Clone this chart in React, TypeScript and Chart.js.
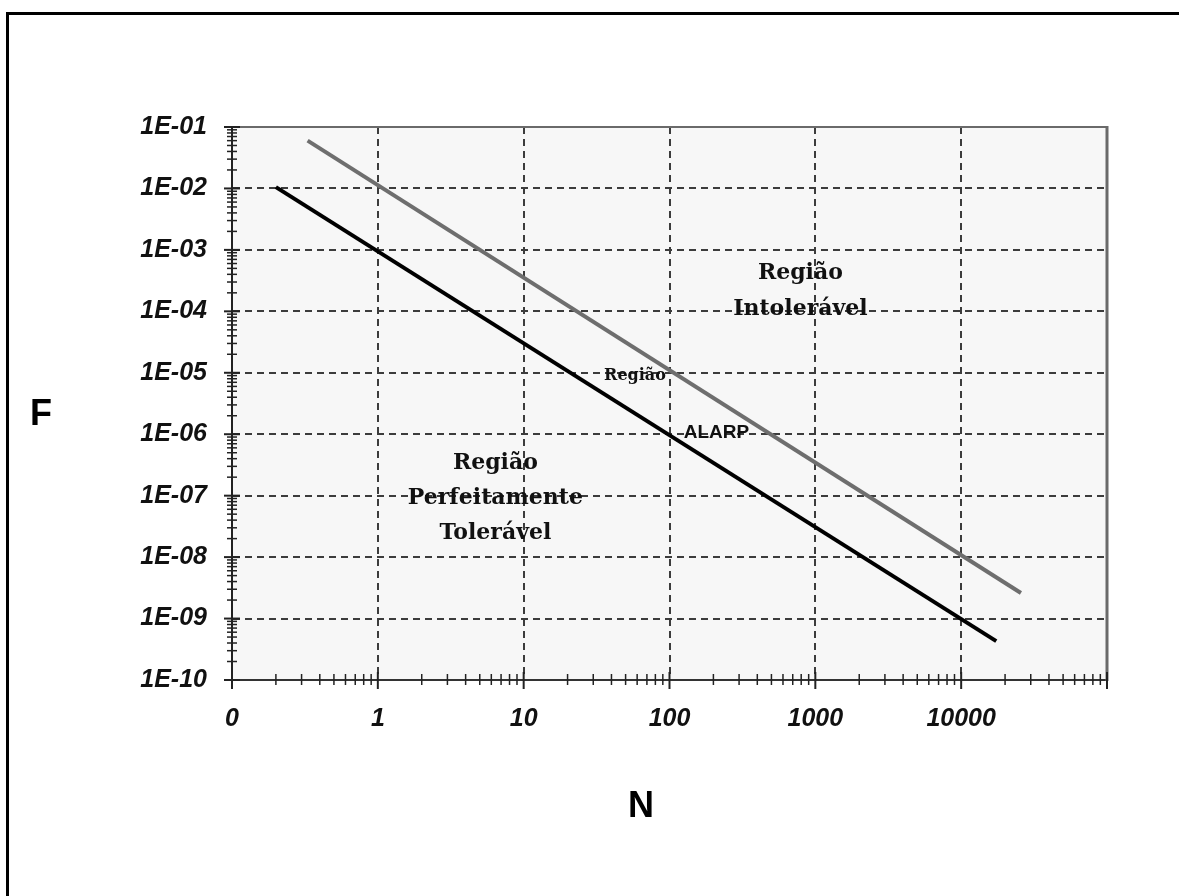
import React, { useEffect, useRef } from "react";
import { Chart, registerables } from "chart.js";

Chart.register(...registerables);

// ---- data ----
const upperN = [0.33, 25700];
const upperF = [0.06, 2.6e-9];
const lowerN = [0.2, 17400];
const lowerF = [0.0105, 4.3e-10];

const xDecades = [0.1, 1, 10, 100, 1000, 10000, 100000];
const xTickLabels = ["0", "1", "10", "100", "1000", "10000", ""];
const yDecades = [1e-10, 1e-9, 1e-8, 1e-7, 1e-6, 1e-5, 1e-4, 1e-3, 1e-2, 1e-1];
const yTickLabels = ["1E-10", "1E-09", "1E-08", "1E-07", "1E-06", "1E-05", "1E-04", "1E-03", "1E-02", "1E-01"];
const minorMultipliers = [2, 3, 4, 5, 6, 7, 8, 9];

const annotationLines = [
  ["Região", "Intolerável"],
  ["Região"],
  ["ALARP"],
  ["Região", "Perfeitamente", "Tolerável"],
];
const annotationN = [790, 58, 210, 6.4];
const annotationF = [2.1e-4, 8.9e-6, 1.05e-6, 9e-8];

const xTitle = "N";
const yTitle = "F";

// ---- styles ----
const annotationFonts = [
  'bold 22px "DejaVu Serif", serif',
  'bold 16px "DejaVu Serif", serif',
  'bold 19px "Liberation Sans", Arial, sans-serif',
  'bold 22px "DejaVu Serif", serif',
];
const annotationLineHeights = [36, 0, 0, 35];

const sameValue = (a: number, b: number) => Math.abs(Math.log10(a) - Math.log10(b)) < 1e-6;
const isMajor = (v: number, decades: number[]) => decades.some((d) => sameValue(d, v));

function buildTicks(decades: number[]) {
  const vals: number[] = [];
  decades.forEach((d, i) => {
    vals.push(d);
    if (i < decades.length - 1) minorMultipliers.forEach((m) => vals.push(d * m));
  });
  return vals.map((value) => ({ value }));
}

function labelFor(value: number, decades: number[], labels: string[]) {
  const idx = decades.findIndex((d) => sameValue(d, value));
  return idx >= 0 ? labels[idx] : "";
}

const tickFont = { family: "'Liberation Sans', Arial, sans-serif", size: 25, style: "italic" as const, weight: "bold" as const };

const backgroundPlugin = {
  id: "plotBackground",
  beforeDraw(chart: any) {
    const { ctx, chartArea: a } = chart;
    ctx.save();
    ctx.fillStyle = "#f7f7f7";
    ctx.fillRect(a.left, a.top, a.right - a.left, a.bottom - a.top);
    ctx.restore();
  },
};

const framePlugin = {
  id: "frameAndTicks",
  afterDraw(chart: any) {
    const { ctx, chartArea: a } = chart;
    const xs = chart.scales.x;
    const ys = chart.scales.y;
    ctx.save();
    // top and right border of the plot
    ctx.strokeStyle = "#6a6a6a";
    ctx.lineWidth = 2;
    ctx.beginPath();
    ctx.moveTo(a.left, a.top);
    ctx.lineTo(a.right, a.top);
    ctx.stroke();
    ctx.lineWidth = 3;
    ctx.beginPath();
    ctx.moveTo(a.right, a.top - 1);
    ctx.lineTo(a.right, a.bottom + 1);
    ctx.stroke();
    // tick marks crossing the axes
    ctx.strokeStyle = "#222";
    xs.ticks.forEach((t: any) => {
      const px = xs.getPixelForValue(t.value);
      const maj = isMajor(t.value, xDecades);
      ctx.lineWidth = maj ? 2 : 1.5;
      ctx.beginPath();
      ctx.moveTo(px, a.bottom - (maj ? 8 : 6));
      ctx.lineTo(px, a.bottom + (maj ? 9 : 5));
      ctx.stroke();
    });
    ys.ticks.forEach((t: any) => {
      const py = ys.getPixelForValue(t.value);
      const maj = isMajor(t.value, yDecades);
      ctx.lineWidth = maj ? 2 : 1.5;
      ctx.beginPath();
      ctx.moveTo(a.left - (maj ? 8 : 5), py);
      ctx.lineTo(a.left + (maj ? 8 : 5), py);
      ctx.stroke();
    });
    // axis titles (upright)
    ctx.fillStyle = "#000";
    ctx.font = 'bold 36px "Liberation Sans", Arial, sans-serif';
    ctx.textAlign = "center";
    ctx.textBaseline = "middle";
    ctx.fillText(yTitle, a.left - 191, (a.top + a.bottom) / 2 + 12);
    ctx.fillText(xTitle, a.left + 409, a.bottom + 127);
    ctx.restore();
  },
};

const annotationPlugin = {
  id: "regionLabels",
  afterDatasetsDraw(chart: any) {
    const { ctx } = chart;
    const xs = chart.scales.x;
    const ys = chart.scales.y;
    ctx.save();
    ctx.fillStyle = "#111";
    ctx.textAlign = "center";
    ctx.textBaseline = "middle";
    annotationLines.forEach((lines, i) => {
      const px = xs.getPixelForValue(annotationN[i]);
      const py = ys.getPixelForValue(annotationF[i]);
      ctx.font = annotationFonts[i];
      const lh = annotationLineHeights[i];
      lines.forEach((txt, j) => {
        ctx.fillText(txt, px, py + (j - (lines.length - 1) / 2) * lh);
      });
    });
    ctx.restore();
  },
};

export default function App() {
  const canvasRef = useRef<HTMLCanvasElement | null>(null);

  useEffect(() => {
    if (!canvasRef.current) return;
    Chart.defaults.color = "#000";
    const chart = new Chart(canvasRef.current, {
      type: "line",
      data: {
        datasets: [
          {
            label: "Limite superior",
            data: upperN.map((n, i) => ({ x: n, y: upperF[i] })),
            borderColor: "#6e6e6e",
            borderWidth: 4,
            pointRadius: 0,
            fill: false,
          },
          {
            label: "Limite inferior",
            data: lowerN.map((n, i) => ({ x: n, y: lowerF[i] })),
            borderColor: "#000000",
            borderWidth: 4,
            pointRadius: 0,
            fill: false,
          },
        ],
      },
      plugins: [backgroundPlugin, annotationPlugin, framePlugin],
      options: {
        animation: false,
        responsive: true,
        maintainAspectRatio: false,
        layout: { padding: { top: 127, right: 72, left: 0, bottom: 0 } },
        plugins: { legend: { display: false }, tooltip: { enabled: false } },
        scales: {
          x: {
            type: "logarithmic",
            min: 0.1,
            max: 100000,
            afterBuildTicks: (s: any) => {
              s.ticks = buildTicks(xDecades);
            },
            afterFit: (s: any) => {
              s.height = 216;
            },
            ticks: {
              autoSkip: false,
              maxRotation: 0,
              minRotation: 0,
              padding: 24,
              font: tickFont,
              color: "#111",
              callback: (v: any) => labelFor(Number(v), xDecades, xTickLabels),
            },
            grid: {
              drawTicks: false,
              lineWidth: 2,
              color: (c: any) =>
                c.tick && isMajor(c.tick.value, xDecades) && !sameValue(c.tick.value, 0.1) ? "#3c3c3c" : "rgba(0,0,0,0)",
            },
            border: { display: true, color: "#333", width: 2, dash: [7, 5] },
          },
          y: {
            type: "logarithmic",
            min: 1e-10,
            max: 1e-1,
            afterBuildTicks: (s: any) => {
              s.ticks = buildTicks(yDecades);
            },
            afterFit: (s: any) => {
              s.width = 232;
            },
            ticks: {
              autoSkip: false,
              padding: 25,
              font: tickFont,
              color: "#111",
              callback: (v: any) => labelFor(Number(v), yDecades, yTickLabels),
            },
            grid: {
              drawTicks: false,
              lineWidth: 2,
              color: (c: any) =>
                c.tick && isMajor(c.tick.value, yDecades) && !sameValue(c.tick.value, 1e-10) ? "#3c3c3c" : "rgba(0,0,0,0)",
            },
            border: { display: true, color: "#222", width: 2, dash: [7, 5] },
          },
        },
      } as any,
    });
    return () => chart.destroy();
  }, []);

  return (
    <div style={{ position: "absolute", left: 0, top: 0, width: 1179, height: 896, background: "#fff" }}>
      <canvas ref={canvasRef} />
      <div
        style={{
          position: "absolute",
          left: 6,
          top: 12,
          width: 1173,
          height: 884,
          borderLeft: "3px solid #000",
          borderTop: "3px solid #000",
          boxSizing: "border-box",
          pointerEvents: "none",
        }}
      />
    </div>
  );
}
